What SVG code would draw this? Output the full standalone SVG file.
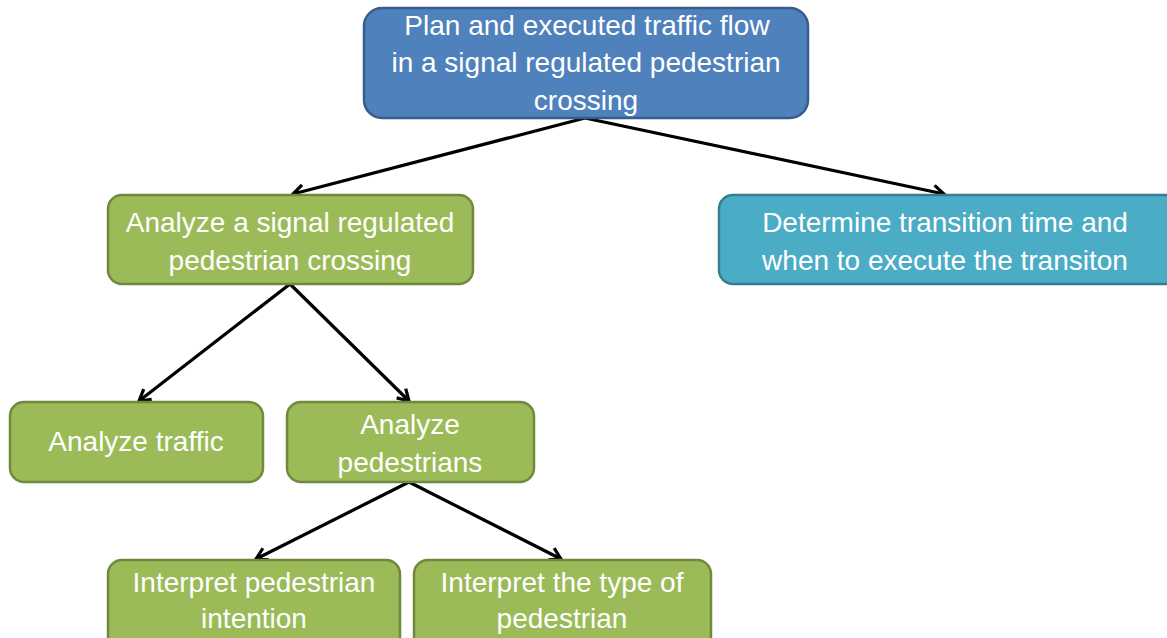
<svg xmlns="http://www.w3.org/2000/svg" width="1167" height="638" viewBox="0 0 1167 638">
  <defs>
    <marker id="arrow" viewBox="0 0 16 16" refX="13" refY="8" markerWidth="16" markerHeight="16" markerUnits="userSpaceOnUse" orient="auto">
      <path d="M2,1.5 L13,8 L2,14.5" fill="none" stroke="#000" stroke-width="3.2" stroke-linejoin="miter"/>
    </marker>
  </defs>
  <style>
    .box { stroke-width: 2.5; }
    .blue { fill: #4f81bd; stroke: #385d8a; }
    .green { fill: #9bbb59; stroke: #71893f; }
    .teal { fill: #4bacc6; stroke: #357d91; }
    .label { font-family: "Liberation Sans", Arial, sans-serif; font-size: 28px; fill: #ffffff; text-anchor: middle; dominant-baseline: central; }
    .edge { fill: none; stroke: #000; stroke-width: 3.2; marker-end: url(#arrow); }
  </style>
  <rect width="1167" height="638" fill="#ffffff"/>

  <g id="connectors">
    <line class="edge" x1="585" y1="118" x2="293" y2="194"/>
    <line class="edge" x1="585" y1="118" x2="944" y2="194"/>
    <line class="edge" x1="290" y1="284" x2="139" y2="401"/>
    <line class="edge" x1="290" y1="284" x2="409" y2="401"/>
    <line class="edge" x1="409" y1="482" x2="256" y2="559"/>
    <line class="edge" x1="409" y1="482" x2="561" y2="559"/>
  </g>

  <g id="node-plan">
    <rect class="box blue" x="364" y="8" width="444" height="110" rx="18"/>
    <text class="label" x="587" y="25">Plan and executed traffic flow</text>
    <text class="label" x="586" y="62">in a signal regulated pedestrian</text>
    <text class="label" x="586" y="100">crossing</text>
  </g>

  <g id="node-analyze-crossing">
    <rect class="box green" x="108" y="195" width="365" height="89" rx="14"/>
    <text class="label" x="290" y="222">Analyze a signal regulated</text>
    <text class="label" x="290" y="260">pedestrian crossing</text>
  </g>

  <g id="node-transition">
    <rect class="box teal" x="719" y="195" width="460" height="89" rx="14"/>
    <text class="label" x="945" y="222">Determine transition time and</text>
    <text class="label" x="945" y="260">when to execute the transiton</text>
  </g>

  <g id="node-traffic">
    <rect class="box green" x="10" y="402" width="253" height="80" rx="14"/>
    <text class="label" x="136" y="441">Analyze traffic</text>
  </g>

  <g id="node-pedestrians">
    <rect class="box green" x="287" y="402" width="247" height="80" rx="14"/>
    <text class="label" x="410" y="424">Analyze</text>
    <text class="label" x="410" y="462">pedestrians</text>
  </g>

  <g id="node-intention">
    <rect class="box green" x="108" y="560" width="292" height="92" rx="14"/>
    <text class="label" x="254" y="582">Interpret pedestrian</text>
    <text class="label" x="254" y="618">intention</text>
  </g>

  <g id="node-type">
    <rect class="box green" x="414" y="560" width="297" height="92" rx="14"/>
    <text class="label" x="562" y="582">Interpret the type of</text>
    <text class="label" x="562" y="618">pedestrian</text>
  </g>
</svg>
